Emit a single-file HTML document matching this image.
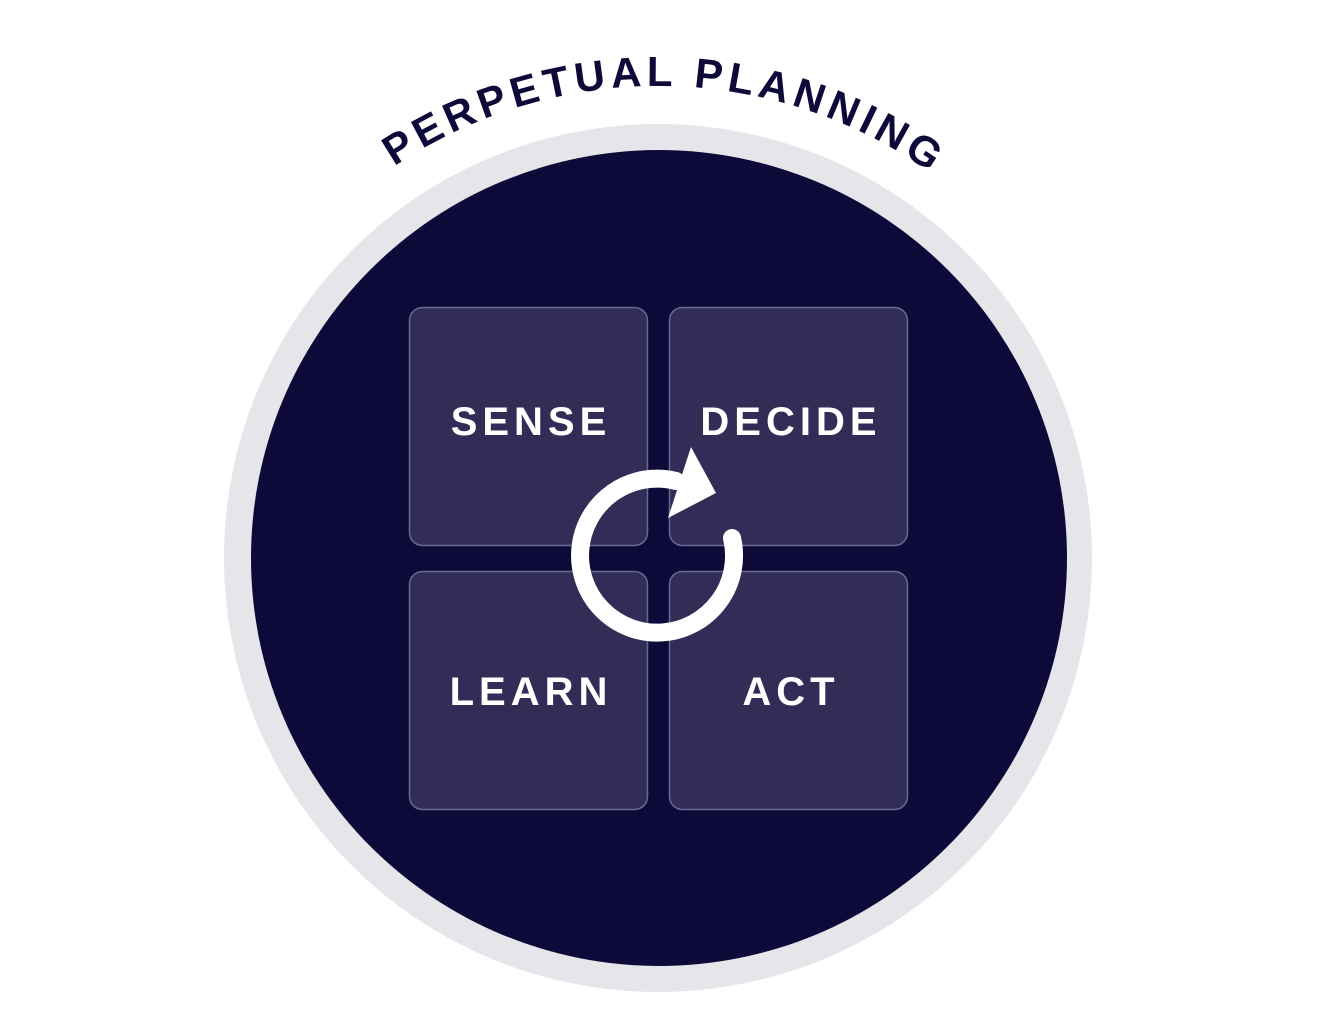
<!DOCTYPE html>
<html><head><meta charset="utf-8"><style>
html,body{margin:0;padding:0;background:#fff;width:1317px;height:1032px;overflow:hidden}
</style></head><body>
<svg width="1317" height="1032" viewBox="0 0 1317 1032" xmlns="http://www.w3.org/2000/svg">
<defs><path id="arc" d="M 186 558 A 472 472 0 0 1 1130 558"/></defs>
<circle cx="658" cy="558" r="434" fill="#e6e5ea"/>
<circle cx="659" cy="558" r="408" fill="#0d0a3a"/>
<g fill="#312d57" stroke="#6c6990" stroke-width="1.5">
<rect x="409.5" y="307.5" width="238" height="238" rx="13"/>
<rect x="669.5" y="307.5" width="238" height="238" rx="13"/>
<rect x="409.5" y="571.5" width="238" height="238" rx="13"/>
<rect x="669.5" y="571.5" width="238" height="238" rx="13"/>
</g>
<g fill="#fff" font-family="Liberation Sans, sans-serif" font-weight="bold" font-size="40" letter-spacing="5" text-anchor="middle">
<text x="531" y="435">SENSE</text>
<text x="791" y="435">DECIDE</text>
<text x="531" y="705">LEARN</text>
<text x="791" y="705">ACT</text>
</g>
<path d="M 732 538 A 77 77 0 1 1 676 481" fill="none" stroke="#fff" stroke-width="18" stroke-linecap="round"/>
<polygon points="691,447 716,493 668,518" fill="#fff"/>
<text font-family="Liberation Sans, sans-serif" font-weight="bold" font-size="42" letter-spacing="5" fill="#0d0a3a" text-anchor="middle"><textPath href="#arc" startOffset="50.5%">PERPETUAL PLANNING</textPath></text>
</svg>
</body></html>
